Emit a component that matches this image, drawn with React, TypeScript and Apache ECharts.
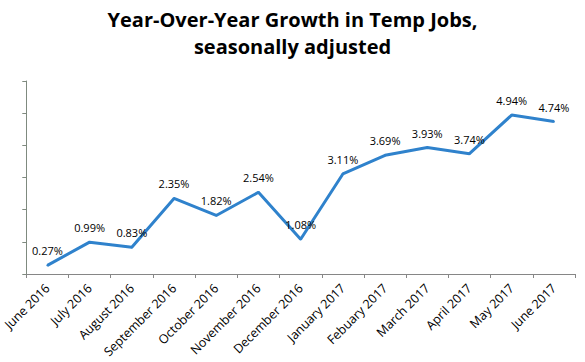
import React, { useEffect, useRef } from "react";
import * as echarts from "echarts";

const categories = [
  "June 2016", "July 2016", "August 2016", "September 2016", "October 2016",
  "November 2016", "December 2016", "January 2017", "Febuary 2017", "March 2017",
  "April 2017", "May 2017", "June 2017",
];
const growth = [0.27, 0.99, 0.83, 2.35, 1.82, 2.54, 1.08, 3.11, 3.69, 3.93, 3.74, 4.94, 4.74];
const titleLines = ["Year-Over-Year Growth in Temp Jobs,", "seasonally adjusted"];

export default function App() {
  const ref = useRef<HTMLDivElement>(null);
  useEffect(() => {
    const chart = echarts.init(ref.current!, null, { renderer: "svg" });
    chart.setOption({
      animation: false,
      title: {
        text: titleLines.join("\n"),
        left: "center",
        top: 6,
        padding: 0,
        textStyle: {
          fontFamily: "Open Sans",
          fontWeight: "bold",
          fontSize: 20,
          lineHeight: 27,
          color: "#000",
        },
      },
      grid: { left: 26, right: 10, top: 81, bottom: 88 },
      xAxis: {
        type: "category",
        data: categories,
        boundaryGap: true,
        axisLine: { lineStyle: { color: "#868686", width: 1 } },
        axisTick: { show: true, length: 4, lineStyle: { color: "#868686" } },
        axisLabel: {
          rotate: 45,
          interval: 0,
          fontFamily: "Open Sans",
          fontSize: 12.5,
          color: "#000",
          margin: 12,
        },
      },
      yAxis: {
        type: "value",
        min: 0,
        max: 6,
        interval: 1,
        axisLine: { show: true, lineStyle: { color: "#7f8a7f", width: 1 } },
        axisTick: { show: true, length: 4, lineStyle: { color: "#7f8a7f" } },
        axisLabel: { show: false },
        splitLine: { show: false },
      },
      series: [
        {
          type: "line",
          data: growth,
          symbol: "circle",
          symbolSize: 2,
          showSymbol: true,
          itemStyle: { color: "#2F82CC" },
          lineStyle: { color: "#2F82CC", width: 3 },
          label: {
            show: true,
            position: "top",
            distance: 8,
            formatter: (p: any) => Number(p.value).toFixed(2) + "%",
            fontFamily: "Open Sans",
            fontSize: 11,
            color: "#000",
          },
        },
      ],
    });
    return () => chart.dispose();
  }, []);
  return <div ref={ref} style={{ width: 585, height: 362, position: "absolute", left: 0, top: 0 }} />;
}
